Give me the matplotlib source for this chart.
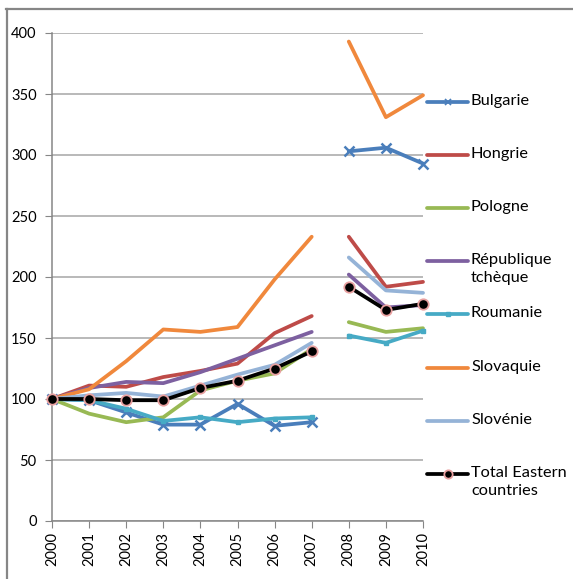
import matplotlib
matplotlib.use("Agg")
import matplotlib.pyplot as plt
from matplotlib.lines import Line2D
import numpy as np

years = ["2000", "2001", "2002", "2003", "2004", "2005", "2006", "2007", "2008", "2009", "2010"]

countries = ["Bulgarie", "Hongrie", "Pologne", "République\ntchèque", "Roumanie",
             "Slovaquie", "Slovénie", "Total Eastern\ncountries"]

bulgarie = [100, 99, 89, 79, 79, 96, 78, 81, 303, 306, 293]
hongrie = [100, 111, 110, 118, 123, 129, 154, 168, 233, 192, 196]
pologne = [100, 88, 81, 85, 107, 115, 121, 141, 163, 155, 158]
tcheque = [100, 109, 114, 113, 122, 133, 144, 155, 202, 175, 177]
roumanie = [100, 99, 92, 82, 85, 81, 84, 85, 152, 146, 156]
slovaquie = [100, 108, 131, 157, 155, 159, 198, 233, 393, 331, 349]
slovenie = [100, 103, 105, 102, 111, 120, 128, 146, 216, 189, 187]
total = [100, 100, 99, 99, 109, 115, 125, 139, 192, 173, 178]

series = [bulgarie, hongrie, pologne, tcheque, roumanie, slovaquie, slovenie, total]
colors = ["#4A7EBB", "#BE4B48", "#98B954", "#7D60A0", "#46AAC5", "#F0883C", "#95B3D7", "#000000"]
markers = ["x", None, None, None, "s", None, None, "o"]

plt.rcParams['font.family'] = ['Lato', 'DejaVu Sans']

W, H = 573, 579
fig = plt.figure(figsize=(W / 100, H / 100), dpi=100)
ax = fig.add_axes([52 / W, 1 - 521 / H, (423 - 52) / W, (521 - 33) / H])

x = np.arange(len(years))


def style(i):
    kw = dict(color=colors[i], lw=2.7, solid_capstyle='round', clip_on=False, zorder=3)
    m = markers[i]
    if m == "x":
        kw.update(marker="x", markersize=7, markeredgewidth=1.8, markeredgecolor=colors[i])
    elif m == "s":
        kw.update(marker="s", markersize=3.5, markeredgecolor=colors[i])
    elif m == "o":
        kw.update(marker="o", markersize=7.5, markerfacecolor="black",
                  markeredgecolor="#E8A0A0", markeredgewidth=1.3, zorder=4)
    return kw


for i, vals in enumerate(series):
    v = np.array(vals, dtype=float)
    ax.plot(x[:8], v[:8], **style(i))
    ax.plot(x[8:], v[8:], **style(i))

ax.set_xlim(0, 10)
ax.set_ylim(0, 400)
ax.set_yticks(np.arange(0, 401, 50))
ax.set_xticks(x)
ax.set_xticklabels(years, rotation=90, fontsize=10.5)
ax.tick_params(axis='y', labelsize=10.5, length=5, color="#868686", pad=6)
ax.tick_params(axis='x', length=5, color="#868686", pad=3)
ax.grid(axis='y', color="#A6A6A6", lw=1.1)
ax.set_axisbelow(True)
for s in ["top", "right"]:
    ax.spines[s].set_visible(False)
for s in ["left", "bottom"]:
    ax.spines[s].set_color("#868686")
    ax.spines[s].set_linewidth(1.1)

# legend drawn entry by entry, evenly spaced like the original
for i, name in enumerate(countries):
    yp = 101.5 + i * 53.2
    fy = 1 - yp / H
    kw = style(i)
    kw.pop('clip_on')
    kw.pop('zorder')
    if markers[i] == "x":
        kw['markersize'] = 5
        kw['markeredgewidth'] = 1.2
    if markers[i] == "o":
        kw['markersize'] = 6
    fig.add_artist(Line2D([427 / W, 468 / W], [fy, fy], markevery=[], **kw))
    if markers[i] is not None:
        fig.add_artist(Line2D([447.5 / W], [fy], linestyle='none', **kw))
    fig.text(471 / W, 1 - (yp - 8) / H, name, fontsize=11.8, va='top', ha='left',
             linespacing=1.4)

# outer frame edges
fig.add_artist(Line2D([6 / W, 1], [1 - 9 / H, 1 - 9 / H], color="#868686", lw=1.6))
fig.add_artist(Line2D([7 / W, 7 / W], [0, 1 - 9 / H], color="#868686", lw=1.6))

fig.savefig("out.png", dpi=100)
